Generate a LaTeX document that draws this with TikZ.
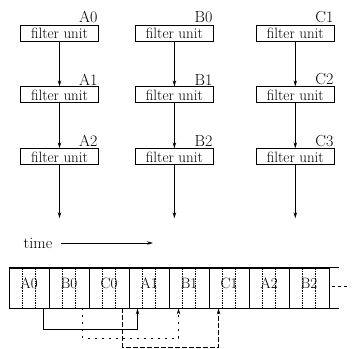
\documentclass[tikz,border=0pt]{standalone}
\usetikzlibrary{positioning, arrows.meta, calc}
\tikzset{
  % filter unit boxes
  filterunit/.style={
    draw, rectangle, line width=0.9pt,
    minimum width=78pt, minimum height=16pt, inner sep=0pt,
    font=\fontsize{15}{16}\selectfont
  },
  unitlabel/.style={
    anchor=south east, inner sep=1.2pt,
    font=\fontsize{16}{18}\selectfont
  },
  % arrows
  flow/.style={
    -{Stealth[length=6pt, width=3.5pt]}, line width=0.9pt
  },
  % time slots
  slot/.style={
    draw, rectangle, line width=0.9pt,
    minimum width=40pt, minimum height=40pt, inner sep=0pt
  },
  slotlabel/.style={font=\fontsize{15}{17}\selectfont, yshift=5pt},
  subdiv/.style={densely dotted, line width=0.7pt},
  stripedge/.style={line width=1.3pt},
  feedA/.style={flow},
  feedB/.style={flow, dash pattern=on 2pt off 5pt},
  feedC/.style={flow, dash pattern=on 5pt off 2pt},
}

\begin{document}
\begin{tikzpicture}[x=1pt, y=1pt, node distance=45pt and 36pt]
  \useasboundingbox (0,0) rectangle (352,-348);

  %% ── Filter units ──
  \node[filterunit, label={[unitlabel]north east:A0}] (fA0) at (59.5,-33) {filter unit};
  \node[filterunit, below=of fA0, label={[unitlabel]north east:A1}] (fA1) {filter unit};
  \node[filterunit, below=of fA1, label={[unitlabel]north east:A2}] (fA2) {filter unit};

  \node[filterunit, right=of fA0, label={[unitlabel]north east:B0}] (fB0) {filter unit};
  \node[filterunit, below=of fB0, label={[unitlabel]north east:B1}] (fB1) {filter unit};
  \node[filterunit, below=of fB1, label={[unitlabel]north east:B2}] (fB2) {filter unit};

  \node[filterunit, right=42pt of fB0, label={[unitlabel]north east:C1}] (fC1) {filter unit};
  \node[filterunit, below=of fC1, label={[unitlabel]north east:C2}] (fC2) {filter unit};
  \node[filterunit, below=of fC2, label={[unitlabel]north east:C3}] (fC3) {filter unit};

  \coordinate (outA) at ($(fA2.south)+(0,-53)$);
  \coordinate (outB) at ($(fB2.south)+(0,-53)$);
  \coordinate (outC) at ($(fC3.south)+(0,-53)$);

  \draw[flow] (fA0) -- (fA1);
  \draw[flow] (fA1) -- (fA2);
  \draw[flow] (fA2) -- (outA);
  \draw[flow] (fB0) -- (fB1);
  \draw[flow] (fB1) -- (fB2);
  \draw[flow] (fB2) -- (outB);
  \draw[flow] (fC1) -- (fC2);
  \draw[flow] (fC2) -- (fC3);
  \draw[flow] (fC3) -- (outC);

  %% ── Time axis ──
  \node[font=\fontsize{16}{18}\selectfont, inner sep=0pt] (time) at (38,-243) {time};
  \coordinate (timeStart) at ($(time.east)+(9,0)$);
  \coordinate (timeEnd) at (153,-243);
  \draw[flow] (timeStart) -- (timeEnd);

  %% ── Time slots ──
  \foreach \lab/\i in {A0/0, B0/1, C0/2, A1/3, B1/4, C1/5, A2/6, B2/7} {
    \node[slot, label={[slotlabel]center:\lab}] (slot\lab) at ({29+40*\i},-288) {};
    \draw[subdiv] ($(slot\lab.north west)+(13.3,0)$) -- ($(slot\lab.south west)+(13.3,0)$);
    \draw[subdiv] ($(slot\lab.north west)+(26.7,0)$) -- ($(slot\lab.south west)+(26.7,0)$);
  }
  \draw[stripedge] (slotA0.north west) -- ($(slotB2.north east)+(10,0)$);
  \draw[stripedge] (slotA0.south west) -- ($(slotB2.south east)+(10,0)$);
  \draw[dashed, line width=0.7pt] ($(slotB2.east)+(3,2)$) -- ++(16,0);

  %% ── Feedback paths ──
  \draw[feedA] ($(slotA0.south west)+(35,0)$) -- ++(0,-21) -| ($(slotA1.south west)+(9,0)$);
  \draw[feedB] ($(slotB0.south west)+(34,0)$) -- ++(0,-30) -| ($(slotB1.south west)+(10,0)$);
  \draw[feedC] ($(slotC0.south west)+(34,0)$) -- ++(0,-39) -| ($(slotC1.south west)+(10,0)$);

\end{tikzpicture}
\end{document}
